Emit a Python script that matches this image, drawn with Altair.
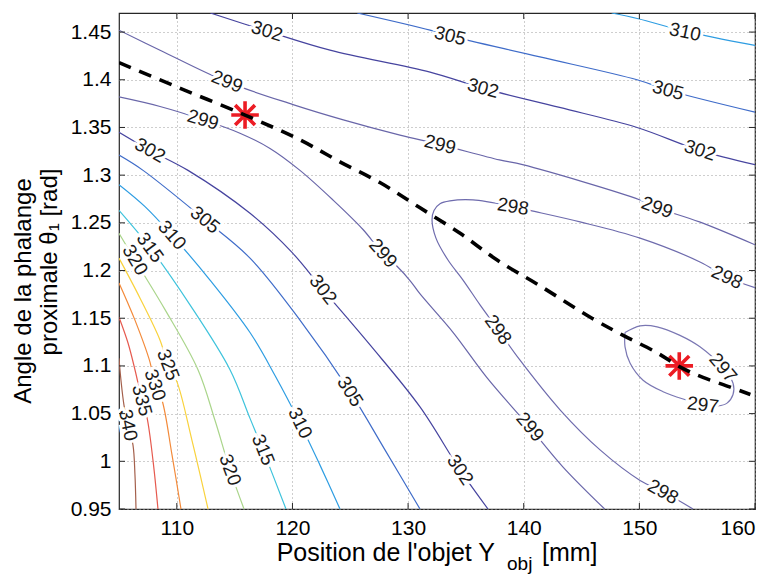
import altair as alt
import pandas as pd

# ---------------- data ----------------
# contour lines: x = Y_obj [mm], y = theta1 [rad]
c310a_x = [147.6, 149.9, 153.9, 160.0]
c310a_y = [1.470, 1.464, 1.451, 1.436]

c305a_x = [125.6, 131.9, 133.6, 141.4, 149.8, 152.5, 160.0]
c305a_y = [1.470, 1.452, 1.446, 1.424, 1.400, 1.389, 1.366]

c302a_x = [112.9, 117.8, 123.25, 131.9, 136.5, 143.1, 149.8, 155.2, 160.0]
c302a_y = [1.470, 1.451, 1.431, 1.408, 1.391, 1.371, 1.350, 1.326, 1.311]

c299a_x = [105.0, 108.55, 114.3, 120.05, 124.4, 129.3, 132.8, 137.9, 139.9, 150.06, 151.5, 155.2, 160.0]
c299a_y = [1.452, 1.431, 1.398, 1.374, 1.358, 1.342, 1.332, 1.316, 1.311, 1.274, 1.266, 1.251, 1.227]

c299b_x = [105.0, 108.55, 112.3, 115.46, 118.06, 120.65, 123.5, 126.1, 127.8, 129.0, 130.2, 131.0, 133.9, 136.8, 140.5, 143.4, 147.0]
c299b_y = [1.382, 1.372, 1.358, 1.344, 1.328, 1.305, 1.274, 1.243, 1.218, 1.205, 1.189, 1.176, 1.135, 1.088, 1.036, 0.994, 0.950]

c302b_x = [105.0, 107.68, 110.97, 116.33, 119.96, 122.64, 126.71, 131.03, 134.49, 136.91]
c302b_y = [1.345, 1.326, 1.305, 1.260, 1.219, 1.180, 1.122, 1.057, 0.991, 0.950]

c305b_x = [105.0, 107.08, 112.44, 116.33, 120.65, 124.98, 128.0, 131.03]
c305b_y = [1.321, 1.305, 1.253, 1.213, 1.148, 1.073, 1.012, 0.950]

c310b_x = [105.0, 107.25, 109.58, 112.87, 116.33, 118.49, 120.65, 122.38, 124.11]
c310b_y = [1.290, 1.267, 1.237, 1.190, 1.135, 1.090, 1.040, 0.996, 0.950]

c315_x = [105.0, 107.68, 111.14, 114.60, 116.33, 117.45, 119.44]
c315_y = [1.263, 1.224, 1.164, 1.096, 1.045, 1.012, 0.950]

c320_x = [105.0, 106.38, 108.98, 111.83, 113.30, 114.60, 115.81]
c320_y = [1.239, 1.211, 1.159, 1.096, 1.043, 0.991, 0.950]

c325_x = [105.0, 106.82, 108.55, 109.24, 110.02, 111.31, 112.70]
c325_y = [1.213, 1.171, 1.127, 1.101, 1.083, 1.022, 0.950]

c330_x = [105.0, 106.38, 107.68, 108.11, 108.72, 109.58, 110.36]
c330_y = [1.187, 1.148, 1.104, 1.080, 1.064, 1.007, 0.950]

c335_x = [105.0, 105.78, 106.38, 106.99, 107.42, 107.94, 108.37]
c335_y = [1.151, 1.124, 1.096, 1.064, 1.046, 1.001, 0.950]

c340_x = [105.0, 105.17, 105.43, 105.78, 106.21, 106.38, 106.47]
c340_y = [1.108, 1.085, 1.059, 1.038, 1.017, 0.986, 0.950]

c298_x = [160.0, 157.58, 155.24, 150.06, 144.87, 140.54, 139.07, 135.61, 133.62, 132.76, 132.24,
          132.07, 132.41, 133.45, 134.75, 136.22, 137.78, 139.68, 143.14, 146.60, 150.06, 152.05, 154.64]
c298_y = [1.182, 1.193, 1.209, 1.234, 1.251, 1.263, 1.267, 1.274, 1.273, 1.270, 1.263,
          1.253, 1.234, 1.211, 1.190, 1.164, 1.138, 1.106, 1.054, 1.012, 0.980, 0.968, 0.950]

c297_x = [148.76, 150.06, 151.53, 153.51, 155.24, 157.23, 158.10, 158.10, 157.58, 156.80,
          155.50, 154.12, 152.05, 150.32, 149.19, 148.76, 148.76]
c297_y = [1.135, 1.142, 1.141, 1.132, 1.120, 1.098, 1.082, 1.070, 1.061, 1.058,
          1.059, 1.064, 1.073, 1.085, 1.103, 1.120, 1.135]

# optimal path (dashed)
path_x = [105.0, 110.3, 115.9, 120.65, 124.1, 127.6, 131.0, 134.5, 137.7, 141.4, 145.9, 148.6, 151.5, 153.5, 155.5, 157.8, 159.6]
path_y = [1.418, 1.391, 1.363, 1.337, 1.314, 1.292, 1.266, 1.239, 1.211, 1.184, 1.150, 1.132, 1.114, 1.099, 1.088, 1.078, 1.070]

# red markers
star_x = [115.9, 153.45]
star_y = [1.363, 1.100]

# contour labels
lab_text = ["310", "305", "305", "302", "302", "302", "299", "299", "299", "299", "299", "299",
            "302", "302", "302", "305", "305", "310", "310", "315", "315", "320", "320",
            "325", "330", "335", "340", "298", "298", "298", "298", "297", "297"]
lab_x = [153.95, 133.62, 152.48, 117.80, 136.48, 155.24, 114.34, 132.76, 151.53, 112.26, 127.83, 140.54,
         107.68, 122.64, 134.49, 112.44, 124.98, 109.58, 120.65, 107.68, 117.45, 106.38, 114.60,
         109.24, 108.11, 106.99, 105.78, 157.58, 139.07, 137.78, 152.05, 157.23, 155.50]
lab_y = [1.450, 1.446, 1.389, 1.451, 1.391, 1.326, 1.398, 1.332, 1.266, 1.358, 1.218, 1.036,
         1.326, 1.180, 0.991, 1.253, 1.073, 1.237, 1.040, 1.224, 1.012, 1.211, 0.991,
         1.101, 1.080, 1.064, 1.038, 1.193, 1.267, 1.138, 0.968, 1.098, 1.059]
lab_angle = [12, 14, 15, 17, 15, 18, 22, 14, 20, 17, 49, 50,
             29, 52, 56, 39, 58, 49, 64, 54, 68, 59, 70,
             69, 72, 75, 79, 25, 9, 54, 29, 50, 7]

x_ticks = [110, 120, 130, 140, 150, 160]
y_ticks = [0.95, 1.0, 1.05, 1.1, 1.15, 1.2, 1.25, 1.3, 1.35, 1.4, 1.45]

levels = ["297", "298", "299", "302", "305", "310", "315", "320", "325", "330", "335", "340"]
level_colors = ["#7a77b3", "#6e6bad", "#6966a9", "#46449f", "#3f6cc9", "#2e9de2", "#3ec3dc",
                "#aad58b", "#f9d23c", "#f38a3a", "#e65a4f", "#a4604c"]

# ---------------- build tables ----------------
contours = [
    ("310", "a310", c310a_x, c310a_y), ("305", "a305", c305a_x, c305a_y),
    ("302", "a302", c302a_x, c302a_y), ("299", "a299", c299a_x, c299a_y),
    ("299", "b299", c299b_x, c299b_y), ("302", "b302", c302b_x, c302b_y),
    ("305", "b305", c305b_x, c305b_y), ("310", "b310", c310b_x, c310b_y),
    ("315", "c315", c315_x, c315_y), ("320", "c320", c320_x, c320_y),
    ("325", "c325", c325_x, c325_y), ("330", "c330", c330_x, c330_y),
    ("335", "c335", c335_x, c335_y), ("340", "c340", c340_x, c340_y),
    ("298", "c298", c298_x, c298_y), ("297", "c297", c297_x, c297_y),
]
rows = []
for lev, cid, xs_, ys_ in contours:
    for i, (xv, yv) in enumerate(zip(xs_, ys_)):
        rows.append({"level": lev, "cid": cid, "o": i, "x": xv, "y": yv})
df_c = pd.DataFrame(rows)
df_path = pd.DataFrame({"x": path_x, "y": path_y, "o": list(range(len(path_x)))})
df_star = pd.DataFrame({"x": star_x, "y": star_y})
df_lab = pd.DataFrame({"x": lab_x, "y": lab_y, "t": lab_text, "a": lab_angle})
df_xt = pd.DataFrame({"v": x_ticks})
df_yt = pd.DataFrame({"v": y_ticks})

W, H = 636, 496
FONT = "Liberation Sans"

xs = alt.Scale(domain=[105, 160], nice=False, zero=False)
ys = alt.Scale(domain=[0.95, 1.47], nice=False, zero=False)

X = alt.X("x:Q", scale=xs, axis=alt.Axis(values=x_ticks, title=None, format="~g"))
Y = alt.Y("y:Q", scale=ys, axis=alt.Axis(values=y_ticks, title=None, format="~g"))

lines = alt.Chart(df_c).mark_line(strokeWidth=1.2, interpolate="catmull-rom", clip=True).encode(
    x=X, y=Y,
    color=alt.Color("level:N", scale=alt.Scale(domain=levels, range=level_colors), legend=None),
    detail="cid:N",
    order="o:Q",
)

halo = alt.Chart(df_lab).mark_text(font=FONT, fontSize=19, stroke="white", strokeWidth=6,
                                   fill="white", baseline="middle", align="center").encode(
    x=alt.X("x:Q", scale=xs), y=alt.Y("y:Q", scale=ys), text="t:N",
    angle=alt.Angle("a:Q", scale=None),
)
labels = alt.Chart(df_lab).mark_text(font=FONT, fontSize=19, color="#1a1a1a",
                                     baseline="middle", align="center").encode(
    x=alt.X("x:Q", scale=xs), y=alt.Y("y:Q", scale=ys), text="t:N",
    angle=alt.Angle("a:Q", scale=None),
)

star_shape = "M-1,0L1,0M0,-1L0,1M-0.72,-0.72L0.72,0.72M-0.72,0.72L0.72,-0.72"
stars = alt.Chart(df_star).mark_point(shape=star_shape, size=760, filled=False,
                                      color="#ec1c24", strokeWidth=3.6, opacity=1).encode(
    x=alt.X("x:Q", scale=xs), y=alt.Y("y:Q", scale=ys)
)

dashed = alt.Chart(df_path).mark_line(color="black", strokeWidth=3.6, strokeDash=[13, 9],
                                      interpolate="catmull-rom", clip=True).encode(
    x=alt.X("x:Q", scale=xs), y=alt.Y("y:Q", scale=ys), order="o:Q"
)

# inward ticks (MATLAB style) on all four sides
tx_b = alt.Chart(df_xt).mark_rule(color="#262626").encode(
    x=alt.X("v:Q", scale=xs), y=alt.value(H), y2=alt.value(H - 6))
tx_t = alt.Chart(df_xt).mark_rule(color="#262626").encode(
    x=alt.X("v:Q", scale=xs), y=alt.value(0), y2=alt.value(6))
ty_l = alt.Chart(df_yt).mark_rule(color="#262626").encode(
    y=alt.Y("v:Q", scale=ys), x=alt.value(0), x2=alt.value(6))
ty_r = alt.Chart(df_yt).mark_rule(color="#262626").encode(
    y=alt.Y("v:Q", scale=ys), x=alt.value(W), x2=alt.value(W - 6))

# axis titles as text (with subscript)
t1 = alt.Chart(pd.DataFrame({"t": ["Position de l'objet Y"]})).mark_text(
    font=FONT, fontSize=25, align="right", baseline="middle", color="black").encode(
    text="t:N", x=alt.value(376), y=alt.value(540))
t2 = alt.Chart(pd.DataFrame({"t": ["obj"]})).mark_text(
    font=FONT, fontSize=19, align="left", baseline="middle", color="black").encode(
    text="t:N", x=alt.value(388), y=alt.value(551))
t3 = alt.Chart(pd.DataFrame({"t": ["[mm]"]})).mark_text(
    font=FONT, fontSize=25, align="left", baseline="middle", color="black").encode(
    text="t:N", x=alt.value(423), y=alt.value(540))
t4 = alt.Chart(pd.DataFrame({"t": ["Angle de la phalange"]})).mark_text(
    font=FONT, fontSize=24, align="center", baseline="middle", angle=270, color="black").encode(
    text="t:N", x=alt.value(-95), y=alt.value(278))
t5 = alt.Chart(pd.DataFrame({"t": ["proximale θ₁ [rad]"]})).mark_text(
    font=FONT, fontSize=24, align="center", baseline="middle", angle=270, color="black").encode(
    text="t:N", x=alt.value(-69), y=alt.value(249))

chart = alt.layer(lines, halo, labels, stars, dashed, tx_b, tx_t, ty_l, ty_r,
                  t1, t2, t3, t4, t5).properties(
    width=W, height=H,
    autosize=alt.AutoSizeParams(type="none"),
    padding={"left": 119, "top": 13, "right": 21, "bottom": 71},
    background="white",
).configure_view(
    stroke="#262626", strokeWidth=1.2
).configure_axis(
    labelFont=FONT, labelFontSize=21, labelColor="black",
    domain=False, ticks=False, labelPadding=8,
    grid=True, gridColor="#9c9c9c", gridDash=[1, 3], gridWidth=1,
)

chart.save("out.html", embed_options={"renderer": "svg", "actions": False})
